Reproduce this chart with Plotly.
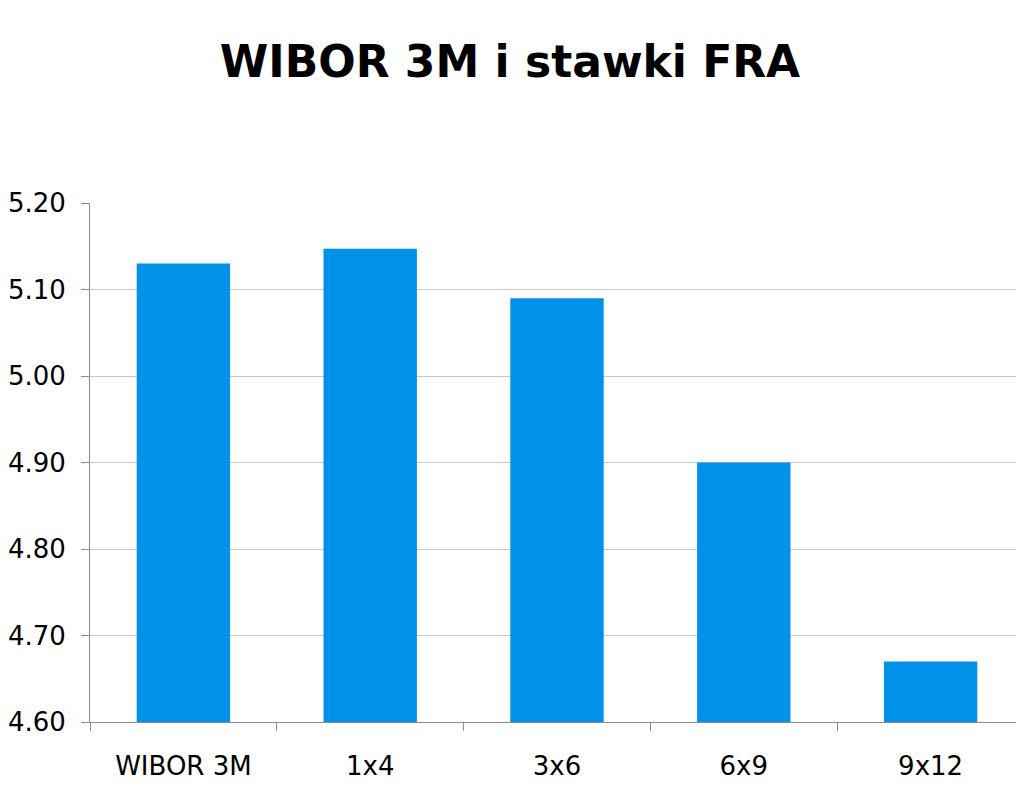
import plotly.graph_objects as go

categories = ["WIBOR 3M", "1x4", "3x6", "6x9", "9x12"]
values = [5.13, 5.147, 5.09, 4.90, 4.67]
y_ticks = [4.60, 4.70, 4.80, 4.90, 5.00, 5.10, 5.20]

fig = go.Figure()
fig.add_trace(go.Bar(
    x=categories, y=values,
    marker=dict(color="#0392EA", line=dict(width=0)),
    width=0.5,
))

W, H = 1016, 783
fig.update_layout(
    width=W, height=H,
    paper_bgcolor="white", plot_bgcolor="white",
    margin=dict(l=77, r=0, t=195, b=69),
    title=dict(text="<b>WIBOR 3M i stawki FRA</b>", x=(510 - 8) / W, xanchor="center",
               y=1 - 54 / H, yanchor="middle",
               font=dict(family="DejaVu Sans", size=44, color="black")),
    showlegend=False,
    bargap=0.5,
)
fig.update_xaxes(
    showline=True, linecolor="#8c8c8c", linewidth=1,
    ticks="outside", tickson="boundaries", ticklen=8, tickcolor="#8c8c8c",
    tickfont=dict(family="DejaVu Sans", size=26, color="black"),
    ticklabelstandoff=21,
    showgrid=False,
)
fig.update_yaxes(
    range=[4.60, 5.20], tickvals=y_ticks,
    ticktext=[f"{v:.2f}" for v in y_ticks],
    showline=True, linecolor="#8c8c8c", linewidth=1,
    ticks="outside", ticklen=8, tickcolor="#8c8c8c",
    showgrid=True, gridcolor="#c8c8c8", gridwidth=1,
    tickfont=dict(family="DejaVu Sans", size=26, color="black"),
    ticklabelstandoff=10,
    zeroline=False,
)

fig.write_html("out.html")
